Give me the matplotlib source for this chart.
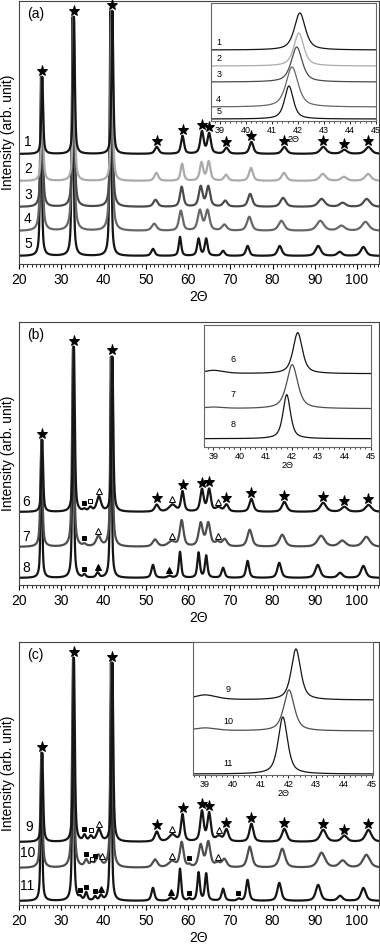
import numpy as np
import matplotlib.pyplot as plt
from matplotlib.ticker import MultipleLocator

plt.rcParams['font.family'] = ['Liberation Sans', 'DejaVu Sans']

# peak lists: centre (2theta), height (px), FWHM (deg)
# panel (a)
pos_1 = [25.5, 33.0, 42.1, 52.6, 58.7, 63.3, 65.0, 69.1, 75.0, 82.8, 92.0, 97.0, 102.7]
hgt_1 = [77, 137, 143, 7, 18, 22, 20, 6, 12, 7, 7, 4, 7]
wid_1 = [0.5, 0.5, 0.5, 1.1, 0.85, 0.95, 0.95, 1.1, 1.1, 1.35, 1.7, 1.6, 1.7]
pos_2 = [25.5, 33.0, 42.0, 52.5, 58.6, 63.2, 64.9, 69.0, 74.9, 82.7, 91.9, 96.9, 102.6]
hgt_2 = [104, 164, 170, 8, 17, 18, 19, 6, 13, 8, 7, 4, 7]
wid_2 = [0.5, 0.5, 0.5, 1.1, 0.85, 0.95, 0.95, 1.1, 1.1, 1.35, 1.7, 1.6, 1.7]
pos_3 = [25.4, 32.9, 41.9, 52.3, 58.5, 63.0, 64.8, 68.8, 74.7, 82.5, 91.6, 96.6, 102.3]
hgt_3 = [130, 190, 196, 7, 20, 20, 20, 6, 13, 9, 8, 4, 8]
wid_3 = [0.55, 0.55, 0.55, 1.2, 0.95, 1.05, 1.05, 1.2, 1.2, 1.5, 1.85, 1.7, 1.85]
pos_4 = [25.3, 32.8, 41.8, 52.0, 58.3, 62.8, 64.6, 68.6, 74.5, 82.1, 91.3, 96.3, 102.0]
hgt_4 = [154, 214, 220, 7, 20, 20, 20, 6, 14, 10, 10, 5, 9]
wid_4 = [0.6, 0.6, 0.6, 1.35, 1.05, 1.15, 1.15, 1.35, 1.3, 1.6, 2.0, 1.9, 2.0]
pos_5 = [25.2, 32.7, 41.65, 51.7, 58.1, 62.5, 64.3, 68.3, 74.1, 81.7, 90.8, 95.9, 101.5]
hgt_5 = [179, 239, 245, 7, 19, 17, 17, 5, 10, 10, 10, 4, 9]
wid_5 = [0.45, 0.45, 0.45, 0.95, 0.7, 0.8, 0.8, 0.95, 0.95, 1.2, 1.45, 1.35, 1.45]
off_a = [110, 83, 57, 33, 8]

# panel (b)
pos_6 = [25.5, 33.0, 35.5, 36.9, 38.9, 42.1, 52.6, 56.3, 58.7, 63.3, 65.0, 67.2, 69.1, 75.0, 82.8, 92.0, 97.0, 102.7]
hgt_6 = [72, 165, 2, 4, 15, 155, 7, 7, 20, 22, 22, 4, 7, 13, 10, 9, 5, 7]
wid_6 = [0.5, 0.5, 0.8, 0.9, 1.2, 0.5, 1.1, 1.9, 0.85, 0.95, 0.95, 1.5, 1.1, 1.1, 1.35, 1.7, 1.6, 1.7]
pos_7 = [25.3, 32.8, 35.5, 38.8, 41.9, 52.2, 56.1, 58.5, 63.0, 64.8, 67.0, 68.7, 74.6, 82.3, 91.5, 96.5, 102.2]
hgt_7 = [107, 200, 2, 10, 190, 7, 5, 26, 23, 23, 4, 7, 17, 12, 11, 6, 10]
wid_7 = [0.55, 0.55, 0.8, 1.3, 0.55, 1.35, 2.0, 1.05, 1.15, 1.15, 1.5, 1.3, 1.3, 1.6, 2.0, 1.9, 2.0]
pos_8 = [25.3, 32.8, 35.5, 38.6, 41.75, 51.7, 55.6, 58.1, 62.5, 64.3, 68.3, 74.1, 81.6, 90.7, 96.0, 101.5]
hgt_8 = [138, 231, 3, 5, 221, 13, 2, 26, 25, 22, 10, 17, 15, 13, 5, 12]
wid_8 = [0.42, 0.42, 0.7, 0.8, 0.42, 0.85, 1.0, 0.65, 0.7, 0.7, 0.85, 0.85, 1.1, 1.35, 1.35, 1.35]
off_b = [73, 38, 7]

# panel (c)
pos_9 = [25.5, 33.0, 35.5, 37.0, 38.9, 42.1, 52.6, 56.3, 58.7, 63.3, 65.0, 67.3, 69.1, 75.0, 82.8, 92.0, 97.0, 102.7]
hgt_9 = [89, 184, 6, 5, 12, 179, 10, 7, 27, 30, 28, 5, 12, 18, 13, 12, 6, 12]
wid_9 = [0.5, 0.5, 0.8, 0.9, 1.2, 0.5, 1.1, 1.9, 0.85, 0.95, 0.95, 1.5, 1.1, 1.1, 1.35, 1.7, 1.6, 1.7]
pos_10 = [25.3, 32.8, 35.9, 37.2, 38.8, 41.9, 52.2, 56.2, 58.5, 60.3, 63.0, 64.8, 67.0, 68.6, 74.6, 82.3, 91.6, 96.6, 102.2]
hgt_10 = [115, 210, 7, 4, 12, 205, 8, 6, 25, 2, 22, 25, 4, 8, 21, 19, 15, 7, 13]
wid_10 = [0.55, 0.55, 0.9, 0.9, 1.3, 0.55, 1.35, 2.0, 1.05, 0.8, 1.15, 1.15, 1.5, 1.3, 1.3, 1.6, 2.0, 1.9, 2.0]
pos_11 = [25.3, 32.8, 34.5, 35.9, 38.0, 39.4, 41.75, 51.7, 55.9, 58.1, 60.3, 62.5, 64.3, 68.3, 72.0, 74.1, 81.6, 90.8, 96.0, 101.5]
hgt_11 = [148, 243, 3, 8, 4, 5, 238, 13, 3, 32, 2, 28, 27, 12, 2, 21, 18, 16, 5, 13]
wid_11 = [0.42, 0.42, 0.7, 0.7, 0.7, 0.8, 0.42, 0.85, 1.0, 0.65, 0.7, 0.7, 0.7, 0.85, 0.8, 0.85, 1.1, 1.35, 1.35, 1.35]
off_c = [63, 37, 4]

# phase markers (2theta)
sqf_6, sqo_6, tro_6 = [35.5], [36.9], [38.9, 56.3, 67.2]
sqf_7, tro_7 = [35.5], [38.8, 56.1, 67.0]
sqf_8, trf_8 = [35.5], [38.6, 55.6]
sqf_9, sqo_9, tro_9 = [35.5], [37.0], [38.9, 56.3, 67.3]
sqf_10, sqo_10, tro_10 = [35.9, 38.0, 60.3], [37.2], [39.6, 56.2, 67.0]
sqf_11, trf_11 = [34.4, 35.9, 38.0, 60.3, 71.9], [39.4, 56.0]

# insets: main peak near 42 deg (+ weak bump at 39)
ins_pos_a = [42.07, 42.03, 41.95, 41.77, 41.65]
ins_hgt_a = [37, 33, 35, 40, 33]
ins_wid_a = [0.5, 0.45, 0.5, 0.55, 0.4]
ins_off_a = [71, 55, 39, 14, 2]
ins_pos_b = [42.22, 42.01, 41.8]
ins_hgt_b = [41, 44, 44]
ins_wid_b = [0.42, 0.5, 0.34]
ins_bump_b = [3.3, 1.5, 0]
ins_off_b = [73, 38, 8]
ins_pos_c = [42.27, 42.02, 41.8]
ins_hgt_c = [51, 41, 57]
ins_wid_c = [0.4, 0.45, 0.4]
ins_bump_c = [5, 3, 0]
ins_off_c = [75, 44, 1]

names_a = ['1', '2', '3', '4', '5']
names_b = ['6', '7', '8']
names_c = ['9', '10', '11']
cols_a = ['#151515', '#ababab', '#4a4a4a', '#676767', '#151515']
cols_b = ['#151515', '#4e4e4e', '#151515']
cols_c = ['#151515', '#4e4e4e', '#151515']


def profile(x, pos, hgt, wid, off):
    y = np.full_like(x, float(off))
    for c, h, w in zip(pos, hgt, wid):
        d = (x - c) / (w / 2)
        y += h * (0.65 / (1 + d**2) + 0.35 * np.exp(-np.log(2) * d**2))
    return y


W, H = 380, 948
fig = plt.figure(figsize=(W / 100, H / 100), dpi=100)
x = np.linspace(20, 105.2, 4000)


def main_axes(top, bottom, tag):
    ax = fig.add_axes([19 / W, 1 - bottom / H, 360 / W, (bottom - top) / H])
    ax.set_xlim(20, 105.2)
    ax.set_ylim(0, bottom - top)
    ax.set_yticks([])
    ax.xaxis.set_minor_locator(MultipleLocator(1))
    ax.set_xticks(range(20, 101, 10))
    ax.tick_params(axis='x', which='major', direction='out', length=3.5, width=0.8, labelsize=10, pad=3)
    ax.tick_params(axis='x', which='minor', direction='out', length=2, width=0.6)
    for s in ax.spines.values():
        s.set_color('#444444')
        s.set_linewidth(0.8)
    ax.set_xlabel('2\u0398', fontsize=10, labelpad=2)
    ax.set_ylabel('Intensity (arb. unit)', fontsize=10, labelpad=3)
    ax.text(0.022, 0.95, tag, transform=ax.transAxes, fontsize=10, ha='left', va='center')
    return ax


def inset_axes(left, right, top, bottom, xlo, xhi):
    ia = fig.add_axes([left / W, 1 - bottom / H, (right - left) / W, (bottom - top) / H])
    ia.set_xlim(xlo, xhi)
    ia.set_ylim(0, bottom - top)
    ia.set_yticks([])
    ia.xaxis.set_major_locator(MultipleLocator(1))
    ia.xaxis.set_minor_locator(MultipleLocator(0.2))
    ia.tick_params(axis='x', which='major', direction='out', length=2, width=0.6, labelsize=6.5, pad=1.5)
    ia.tick_params(axis='x', which='minor', direction='out', length=1.2, width=0.5)
    for s in ia.spines.values():
        s.set_color('#666666')
        s.set_linewidth(0.8)
    ia.set_xlabel('2\u0398', fontsize=6.5, labelpad=0)
    return ia


def markers(ax, xs, pos, hgt, wid, off, mk, filled, ms, pad):
    if not xs:
        return
    ys = profile(np.array(xs, float), pos, hgt, wid, off) + pad
    ax.plot(xs, ys, ls='none', marker=mk, ms=ms, color='k',
            mfc='k' if filled else 'white', mec='k', mew=0.7, clip_on=False, zorder=5)


# ---------------- panel (a) ----------------
ax = main_axes(1, 264, '(a)')
peaks_a = [(pos_1, hgt_1, wid_1), (pos_2, hgt_2, wid_2), (pos_3, hgt_3, wid_3),
           (pos_4, hgt_4, wid_4), (pos_5, hgt_5, wid_5)]
for i in range(4, -1, -1):
    p, h, w = peaks_a[i]
    ax.plot(x, profile(x, p, h, w, off_a[i]), color=cols_a[i], lw=1.6)
for i, n in enumerate(names_a):
    ax.text(22.1, off_a[i] + 5, n, fontsize=10, ha='center', va='bottom')
markers(ax, pos_1, pos_1, hgt_1, wid_1, off_a[0], '*', True, 8, 6)

ia = inset_axes(211, 376, 3, 121, 38.65, 45)
xi = np.linspace(38.65, 45, 800)
for i in range(5):
    yi = profile(xi, [ins_pos_a[i]], [ins_hgt_a[i]], [ins_wid_a[i]], ins_off_a[i])
    ia.plot(xi, yi, color=cols_a[i], lw=0.9)
    ia.text(38.95, ins_off_a[i] + 3, names_a[i], fontsize=6.5, ha='center', va='bottom')

# ---------------- panel (b) ----------------
ax = main_axes(322, 585, '(b)')
peaks_b = [(pos_6, hgt_6, wid_6), (pos_7, hgt_7, wid_7), (pos_8, hgt_8, wid_8)]
for i in range(2, -1, -1):
    p, h, w = peaks_b[i]
    ax.plot(x, profile(x, p, h, w, off_b[i]), color=cols_b[i], lw=1.6)
for i, n in enumerate(names_b):
    ax.text(21.8, off_b[i] + 3, n, fontsize=10, ha='center', va='bottom')
markers(ax, pos_1, *peaks_b[0], off_b[0], '*', True, 8, 6)
markers(ax, sqf_6, *peaks_b[0], off_b[0], 's', True, 3.5, 5)
markers(ax, sqo_6, *peaks_b[0], off_b[0], 's', False, 3.5, 5)
markers(ax, tro_6, *peaks_b[0], off_b[0], '^', False, 4.5, 5)
markers(ax, sqf_7, *peaks_b[1], off_b[1], 's', True, 3.5, 5)
markers(ax, tro_7, *peaks_b[1], off_b[1], '^', False, 4.5, 5)
markers(ax, sqf_8, *peaks_b[2], off_b[2], 's', True, 3.5, 5)
markers(ax, trf_8, *peaks_b[2], off_b[2], '^', True, 4.5, 5)

ia = inset_axes(204, 370.5, 325, 446.7, 38.64, 45)
xi = np.linspace(38.64, 45, 800)
for i in range(3):
    yi = profile(xi, [ins_pos_b[i], 39.0], [ins_hgt_b[i], ins_bump_b[i]], [ins_wid_b[i], 0.9], ins_off_b[i])
    ia.plot(xi, yi, color=cols_b[i], lw=0.9)
    ia.text(39.75, ins_off_b[i] + 14, names_b[i], fontsize=6.5, ha='center', va='center')

# ---------------- panel (c) ----------------
ax = main_axes(642, 905, '(c)')
peaks_c = [(pos_9, hgt_9, wid_9), (pos_10, hgt_10, wid_10), (pos_11, hgt_11, wid_11)]
for i in range(2, -1, -1):
    p, h, w = peaks_c[i]
    ax.plot(x, profile(x, p, h, w, off_c[i]), color=cols_c[i], lw=1.6)
for i, n in enumerate(names_c):
    ax.text(22.4 if i == 0 else 22.0, off_c[i] + 8, n, fontsize=10, ha='center', va='bottom')
markers(ax, pos_1, *peaks_c[0], off_c[0], '*', True, 8, 6)
markers(ax, sqf_9, *peaks_c[0], off_c[0], 's', True, 3.5, 5)
markers(ax, sqo_9, *peaks_c[0], off_c[0], 's', False, 3.5, 5)
markers(ax, tro_9, *peaks_c[0], off_c[0], '^', False, 4.5, 5)
markers(ax, sqf_10, *peaks_c[1], off_c[1], 's', True, 3.5, 5)
markers(ax, sqo_10, *peaks_c[1], off_c[1], 's', False, 3.5, 2)
markers(ax, tro_10, *peaks_c[1], off_c[1], '^', False, 4.5, 5)
markers(ax, sqf_11, *peaks_c[2], off_c[2], 's', True, 3.5, 5)
markers(ax, trf_11, *peaks_c[2], off_c[2], '^', True, 4.5, 5)

ia = inset_axes(193.3, 373.3, 642, 775, 38.58, 45.05)
xi = np.linspace(38.58, 45.05, 800)
for i in range(3):
    yi = profile(xi, [ins_pos_c[i], 39.0], [ins_hgt_c[i], ins_bump_c[i]], [ins_wid_c[i], 1.0], ins_off_c[i])
    ia.plot(xi, yi, color=cols_c[i], lw=0.9)
    ia.text(39.83, ins_off_c[i] + 10, names_c[i], fontsize=6.5, ha='center', va='center')

fig.savefig('out.png', dpi=100)
